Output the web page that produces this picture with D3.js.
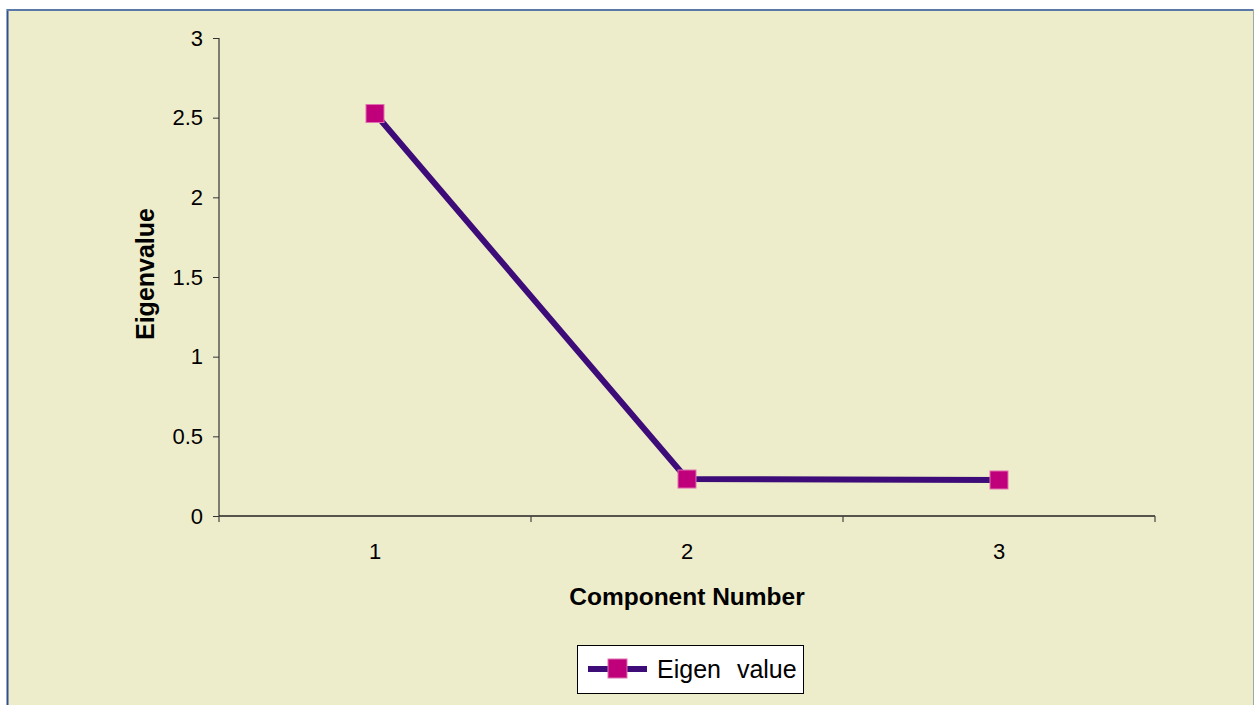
<!DOCTYPE html>
<html><head><meta charset="utf-8">
<script src="https://cdn.jsdelivr.net/npm/d3@7"></script>
<style>
html,body{margin:0;padding:0;background:#fff;}
svg{display:block;font-family:"Liberation Sans",Arial,sans-serif;}
</style></head>
<body>
<svg id="chart" width="1254" height="705"></svg>
<script>
const components = ["1", "2", "3"];
const eigenValues = [2.526, 0.232, 0.226];
const yTicks = [0, 0.5, 1, 1.5, 2, 2.5, 3];
const seriesName = "Eigen value";
const xTitle = "Component Number";
const yTitle = "Eigenvalue";

(function () {
const svg = d3.select("#chart");
// chart background
svg.append("rect").attr("x", 7).attr("y", 9).attr("width", 1246).attr("height", 700)
  .attr("fill", "#EEEDCB");
svg.append("line").attr("x1", 7.5).attr("x2", 7.5).attr("y1", 9).attr("y2", 705)
  .attr("stroke", "#2F4F8F").attr("stroke-width", 2);
svg.append("line").attr("x1", 7).attr("x2", 1253).attr("y1", 10).attr("y2", 10)
  .attr("stroke", "#5A78A8").attr("stroke-width", 2);
svg.append("line").attr("x1", 1253.5).attr("x2", 1253.5).attr("y1", 9).attr("y2", 705)
  .attr("stroke", "#A0A8A8").attr("stroke-width", 1);

const pLeft = 219, pRight = 1155, pTop = 38, pBottom = 516;
const x = d3.scaleBand().domain(components).range([pLeft, pRight]);
const y = d3.scaleLinear().domain([0, 3]).range([pBottom, pTop]);

// y axis
const yAxis = svg.append("g").attr("transform", `translate(${pLeft},0)`)
  .call(d3.axisLeft(y).tickValues(yTicks).tickSize(6).tickPadding(10).tickFormat(d3.format("")));
yAxis.attr("font-size", 22).attr("font-family", "Liberation Sans, Arial, sans-serif");
yAxis.select(".domain").attr("stroke", "#333").attr("stroke-width", 1.2).attr("d", `M0,${pTop}V${pBottom}`);
yAxis.selectAll(".tick line").attr("stroke", "#333");
yAxis.selectAll(".tick text").attr("font-size", 22).attr("fill", "#000");

// x axis
const xAxis = svg.append("g").attr("transform", `translate(0,${pBottom})`);
xAxis.append("line").attr("x1", pLeft).attr("x2", pRight).attr("y1", 0).attr("y2", 0)
  .attr("stroke", "#222").attr("stroke-width", 1.5);
const bounds = [pLeft].concat(components.map(c => x(c) + x.bandwidth()));
xAxis.selectAll("line.tk").data(bounds).join("line").attr("class", "tk")
  .attr("x1", d => d).attr("x2", d => d).attr("y1", 0).attr("y2", 6)
  .attr("stroke", "#444").attr("stroke-width", 1.2);
xAxis.selectAll("text").data(components).join("text")
  .attr("x", d => x(d) + x.bandwidth() / 2).attr("y", 43)
  .attr("text-anchor", "middle").attr("font-size", 22).attr("fill", "#000").text(d => d);

// titles
svg.append("text").attr("x", 687).attr("y", 605).attr("text-anchor", "middle")
  .attr("font-size", 24.5).attr("font-weight", "bold").attr("fill", "#000").text(xTitle);
svg.append("text").attr("transform", "translate(154,274) rotate(-90)").attr("text-anchor", "middle")
  .attr("font-size", 25).attr("font-weight", "bold").attr("fill", "#000").text(yTitle);

// line
const cx = d => x(d) + x.bandwidth() / 2;
const line = d3.line().x((d, i) => cx(components[i])).y(d => y(d));
svg.append("path").datum(eigenValues).attr("d", line).attr("fill", "none")
  .attr("stroke", "#3D0C78").attr("stroke-width", 6).attr("stroke-linejoin", "miter");
svg.selectAll("rect.mk").data(eigenValues).join("rect").attr("class", "mk")
  .attr("x", (d, i) => cx(components[i]) - 9).attr("y", d => y(d) - 9)
  .attr("width", 18).attr("height", 18)
  .attr("fill", "#C0007A").attr("stroke", "#E070B0").attr("stroke-width", 1);

// legend
const lg = svg.append("g");
lg.append("rect").attr("x", 577.5).attr("y", 645.5).attr("width", 226).attr("height", 48)
  .attr("fill", "#fff").attr("stroke", "#000").attr("stroke-width", 1);
lg.append("line").attr("x1", 588).attr("x2", 647).attr("y1", 669).attr("y2", 669)
  .attr("stroke", "#3D0C78").attr("stroke-width", 6);
lg.append("rect").attr("x", 608).attr("y", 659).attr("width", 19).attr("height", 19)
  .attr("fill", "#C0007A").attr("stroke", "#E070B0").attr("stroke-width", 1);
lg.append("text").attr("x", 657).attr("y", 678).attr("font-size", 25).attr("fill", "#000")
  .attr("word-spacing", 9).text(seriesName);
})();
</script>
</body></html>
